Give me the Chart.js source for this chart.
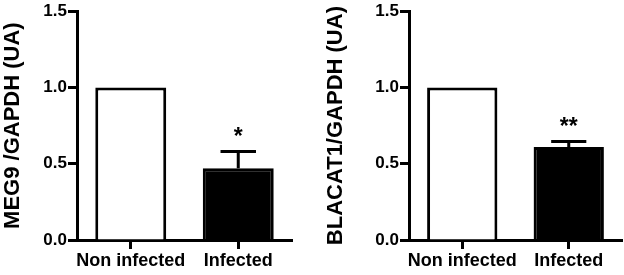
<!DOCTYPE html>
<html>
<head>
<meta charset="utf-8">
<script src="https://cdn.jsdelivr.net/npm/chart.js@4"></script>
<style>
  body { margin: 0; background: #fff; }
  .wrap { display: flex; width: 624px; height: 275px; }
  .panel { width: 312px; height: 275px; }
</style>
</head>
<body>
<div class="wrap">
  <div class="panel"><canvas id="meg9" width="312" height="275"></canvas></div>
  <div class="panel"><canvas id="blacat" width="312" height="275"></canvas></div>
</div>
<script>
const categories = ['Non infected', 'Infected'];
const yTicks = [0, 0.5, 1.0, 1.5];

const meg9Values = [1.0, 0.47];
const meg9Errors = [0, 0.11];
const meg9Stars = ['', '*'];

const blacatValues = [1.0, 0.61];
const blacatErrors = [0, 0.035];
const blacatStars = ['', '**'];

const FONT = 'Liberation Sans, Arial, Helvetica, sans-serif';

// error bars (upper only) + significance stars
const extras = {
  id: 'extras',
  afterDatasetsDraw(chart, args, opts) {
    const ctx = chart.ctx;
    const y = chart.scales.y;
    const bars = chart.getDatasetMeta(0).data;
    const vals = chart.data.datasets[0].data;
    ctx.save();
    bars.forEach((bar, i) => {
      const err = opts.errors[i];
      const top = y.getPixelForValue(vals[i] + err);
      if (err > 0) {
        ctx.strokeStyle = '#000';
        ctx.lineWidth = 3;
        ctx.beginPath();
        ctx.moveTo(bar.x, bar.y);
        ctx.lineTo(bar.x, top);
        ctx.moveTo(bar.x - bar.width / 4, top);
        ctx.lineTo(bar.x + bar.width / 4, top);
        ctx.stroke();
      }
      if (opts.stars[i]) {
        ctx.fillStyle = '#000';
        ctx.font = 'bold 23px ' + FONT;
        ctx.textAlign = 'center';
        ctx.textBaseline = 'alphabetic';
        ctx.fillText(opts.stars[i], bar.x, top - 8);
      }
    });
    ctx.restore();
  }
};

function makeChart(id, values, errors, stars, title, yWidth, titlePad, rightPad) {
  return new Chart(document.getElementById(id), {
    type: 'bar',
    data: {
      labels: categories,
      datasets: [{
        data: values,
        backgroundColor: ['#ffffff', '#000000'],
        borderColor: '#000',
        borderWidth: 3,
        barPercentage: 0.66,
        categoryPercentage: 1
      }]
    },
    options: {
      responsive: false,
      animation: false,
      layout: { padding: { left: 0, right: rightPad, top: 0, bottom: 0 } },
      plugins: {
        legend: { display: false },
        tooltip: { enabled: false },
        extras: { errors: errors, stars: stars }
      },
      scales: {
        x: {
          afterFit: s => { s.height = 35; },
          border: { color: '#000', width: 3 },
          grid: { offset: false, drawOnChartArea: false, drawTicks: true, tickLength: 9, tickWidth: 3, color: '#000' },
          ticks: {
            color: '#000', padding: 1, autoSkip: false, maxRotation: 0, minRotation: 0,
            font: { family: FONT, size: 18, weight: 'bold' }
          }
        },
        y: {
          min: 0,
          max: 1.5,
          afterFit: s => { s.width = yWidth; },
          afterBuildTicks: s => { s.ticks = yTicks.map(v => ({ value: v })); },
          border: { color: '#000', width: 3 },
          grid: { drawOnChartArea: false, drawTicks: true, tickLength: 9, tickWidth: 3, color: '#000' },
          ticks: {
            color: '#000',
            padding: 1,
            font: { family: FONT, size: 17, weight: 'bold' },
            callback: v => Number(v).toFixed(1)
          },
          title: {
            display: true,
            text: title,
            color: '#000',
            padding: { top: titlePad, bottom: 0 },
            font: { family: FONT, size: 22, weight: 'bold' }
          }
        }
      }
    },
    plugins: [extras]
  });
}

makeChart('meg9', meg9Values, meg9Errors, meg9Stars, 'MEG9 /GAPDH (UA)', 77, 0, 20);
makeChart('blacat', blacatValues, blacatErrors, blacatStars, 'BLACAT1/GAPDH (UA)', 97, 11, 2);
</script>
</body>
</html>
